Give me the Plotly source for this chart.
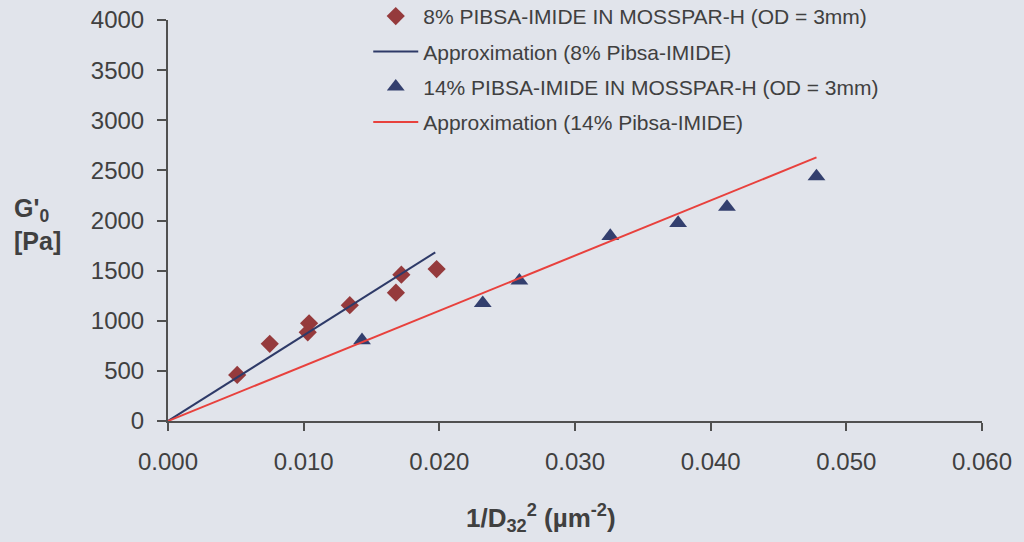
import plotly.graph_objects as go

# Measured data: storage modulus vs inverse squared Sauter diameter
x_8pct = [0.0051, 0.0075, 0.0104, 0.0103, 0.0134, 0.0168, 0.0172, 0.0198]
g0_8pct = [460, 770, 975, 885, 1155, 1280, 1460, 1515]

x_14pct = [0.0143, 0.0232, 0.0259, 0.0326, 0.0376, 0.0412, 0.0478]
g0_14pct = [805, 1175, 1400, 1845, 1975, 2135, 2440]

# Linear approximations through the origin: [x_start, x_end] and slope (Pa per um^-2)
fit_8pct_x = [0.0, 0.0197]
fit_8pct_slope = 85400
fit_14pct_x = [0.0, 0.0478]
fit_14pct_slope = 55000

x_ticks = [0.0, 0.01, 0.02, 0.03, 0.04, 0.05, 0.06]
y_ticks = [0, 500, 1000, 1500, 2000, 2500, 3000, 3500, 4000]

BG = "#e1e4eb"
TXT = "#404040"
AX = "#505050"
FONT = "Liberation Sans, Arial, sans-serif"

fig = go.Figure()

fig.add_trace(go.Scatter(
    x=x_8pct, y=g0_8pct, mode="markers",
    name="8% PIBSA-IMIDE IN MOSSPAR-H (OD = 3mm)",
    marker=dict(symbol="diamond", size=14, color="#953a3c"),
    legendgroup="a",
))
fig.add_trace(go.Scatter(
    x=fit_8pct_x, y=[fit_8pct_slope * v for v in fit_8pct_x], mode="lines",
    name="Approximation (8% Pibsa-IMIDE)",
    line=dict(color="#2e3a68", width=2),
    legendgroup="b",
))
fig.add_trace(go.Scatter(
    x=x_14pct, y=g0_14pct, mode="markers",
    name="14% PIBSA-IMIDE IN MOSSPAR-H (OD = 3mm)",
    marker=dict(symbol="triangle-up", size=15.5, color="#333f6e"),
    legendgroup="c",
))
fig.add_trace(go.Scatter(
    x=fit_14pct_x, y=[fit_14pct_slope * v for v in fit_14pct_x], mode="lines",
    name="Approximation (14% Pibsa-IMIDE)",
    line=dict(color="#e8413d", width=2),
    legendgroup="d",
))

fig.update_layout(
    width=1024, height=542,
    margin=dict(l=168, r=42, t=20, b=121, autoexpand=False),
    paper_bgcolor=BG, plot_bgcolor=BG,
    font=dict(family=FONT, color=TXT, size=21),
    showlegend=True,
    legend=dict(
        x=0.246, y=1.06, xanchor="left", yanchor="top",
        bgcolor="rgba(0,0,0,0)", borderwidth=0,
        font=dict(family=FONT, size=21, color=TXT),
        traceorder="grouped", tracegroupgap=5,
        itemwidth=45,
    ),
    xaxis=dict(
        range=[0, 0.06], tickvals=x_ticks, tickformat=".3f",
        showgrid=False, zeroline=False,
        showline=True, linecolor=AX, linewidth=2,
        ticks="outside", ticklen=8, tickwidth=2, tickcolor=AX,
        tickfont=dict(size=24, color=TXT),
        ticklabelstandoff=10,
    ),
    yaxis=dict(
        range=[0, 4000], tickvals=y_ticks,
        showgrid=False, zeroline=False,
        showline=True, linecolor=AX, linewidth=2,
        ticks="outside", ticklen=9, tickwidth=2, tickcolor=AX,
        tickfont=dict(size=24, color=TXT),
        ticklabelstandoff=8,
    ),
    annotations=[
        dict(
            text="<b>G'<sub>0</sub></b><br><b>[Pa]</b>",
            xref="paper", yref="paper", x=-0.160, y=0.49,
            xanchor="center", yanchor="middle", showarrow=False,
            font=dict(size=25, color=TXT, family=FONT), align="left",
        ),
        dict(
            text="<b>1/D<sub>32</sub><sup>2</sup> (\u00b5m<sup>-2</sup>)</b>",
            xref="paper", yref="paper", x=0.458, y=-0.243,
            xanchor="center", yanchor="middle", showarrow=False,
            font=dict(size=26, color=TXT, family=FONT),
        ),
    ],
)

fig.write_html("out.html")
